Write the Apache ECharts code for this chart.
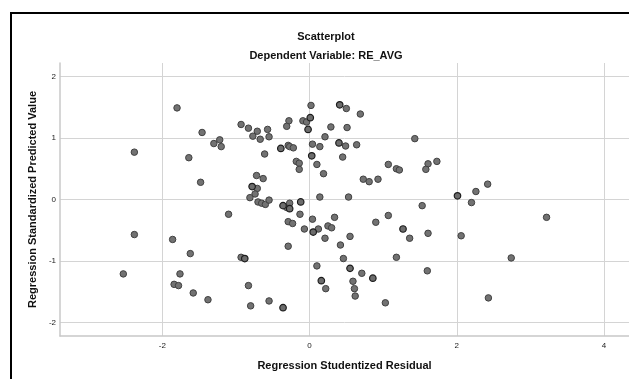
<!DOCTYPE html>
<html>
<head>
<meta charset="utf-8">
<script src="https://cdn.jsdelivr.net/npm/echarts@6/dist/echarts.min.js"></script>
<style>
  html, body { margin: 0; padding: 0; background: #fff; }
  #chart { width: 629px; height: 379px; }
</style>
</head>
<body>
<div id="chart"></div>
<script>
// studentized residual (x) / standardized predicted value (y)
const residual = [
  -1.80, -1.46, -2.38, -1.64, -1.48, -2.38, -1.86, -1.62, -2.53, -1.76,
  -1.84, -1.78, -1.58, -1.38, 0.02, 0.50, 0.69, -0.28, -0.09, -0.04,
  -0.93, -0.83, -0.71, -0.57, -0.31, 0.29, 0.51, -0.77, -0.67, -0.55,
  0.21, -1.30, -1.22, -1.20, -0.29, -0.27, -0.22, 0.04, 0.14, 0.49,
  0.64, -0.61, 0.45, -0.18, -0.14, -0.14, 0.10, 0.19, 1.07, 1.18,
  1.22, 0.73, 0.81, 0.93, -0.72, -0.63, -0.71, -0.74, -0.81, 0.14,
  0.53, -0.70, -0.65, -0.60, -0.55, -0.31, -0.27, -1.10, -0.13, 0.04,
  -0.29, -0.23, 0.34, -0.07, 0.12, 0.25, 0.30, 0.21, 0.55, 0.42,
  0.90, 1.07, -0.29, -0.93, 0.46, 1.18, 0.10, 0.71, 0.59, 0.22,
  0.61, 0.62, -0.83, -0.80, -0.55, 1.03, 1.43, 1.61, 1.58, 1.73,
  2.26, 2.42, 2.20, 1.53, 1.36, 1.61, 2.06, 3.22, 2.74, 1.60,
  2.43
];
const predicted = [
  1.49, 1.09, 0.77, 0.68, 0.28, -0.57, -0.65, -0.88, -1.21, -1.21,
  -1.38, -1.40, -1.52, -1.63, 1.53, 1.48, 1.39, 1.28, 1.28, 1.26,
  1.22, 1.16, 1.11, 1.14, 1.19, 1.18, 1.17, 1.03, 0.98, 1.02,
  1.02, 0.91, 0.97, 0.86, 0.88, 0.86, 0.84, 0.90, 0.86, 0.87,
  0.89, 0.74, 0.69, 0.62, 0.59, 0.49, 0.57, 0.42, 0.57, 0.50,
  0.48, 0.33, 0.29, 0.33, 0.39, 0.34, 0.18, 0.09, 0.03, 0.04,
  0.04, -0.04, -0.06, -0.08, -0.01, -0.13, -0.06, -0.24, -0.24, -0.32,
  -0.36, -0.39, -0.29, -0.48, -0.48, -0.43, -0.46, -0.63, -0.60, -0.74,
  -0.37, -0.26, -0.76, -0.94, -0.96, -0.94, -1.08, -1.20, -1.33, -1.45,
  -1.45, -1.57, -1.40, -1.73, -1.65, -1.68, 0.99, 0.58, 0.49, 0.62,
  0.13, 0.25, -0.05, -0.10, -0.63, -0.55, -0.59, -0.29, -0.95, -1.16,
  -1.60
];
// points drawn with a darker outline (overlapping cases)
const residualDark = [0.41, 0.01, -0.02, -0.39, 0.40, 0.03, -0.78, -0.36, -0.27, -0.12, 0.05, 1.27, -0.88, 0.55, 0.86, 0.16, -0.36, 2.01];
const predictedDark = [1.54, 1.33, 1.14, 0.83, 0.92, 0.71, 0.21, -0.10, -0.15, -0.04, -0.53, -0.48, -0.96, -1.12, -1.28, -1.32, -1.76, 0.06];

const xRange = [-3.39, 4.34];
const yRange = [-2.22, 2.22];

const FONT = '"Liberation Sans", Arial, sans-serif';

const chart = echarts.init(document.getElementById('chart'), null, { renderer: 'canvas' });

const pairs = (xs, ys) => xs.map((x, i) => [x, ys[i]]);

const axisCommon = {
  type: 'value',
  splitNumber: 4,
  axisLine: { show: true, onZero: false, lineStyle: { color: '#c8c8c8', width: 1.5 } },
  axisTick: { show: false },
  axisLabel: { fontSize: 8, color: '#222', fontFamily: FONT, showMinLabel: false, showMaxLabel: false },
  splitLine: { show: true, showMinLine: false, showMaxLine: false, lineStyle: { color: '#d4d4d4', width: 1 } },
  nameLocation: 'middle',
  nameTextStyle: { fontSize: 11, fontWeight: 'bold', color: '#111', fontFamily: FONT },
};

chart.setOption({
  animation: false,
  grid: { left: 60, top: 63, right: 0, bottom: 43 },
  xAxis: {
    ...axisCommon,
    min: xRange[0],
    max: xRange[1],
    name: 'Regression Studentized Residual',
    nameGap: 24,
    axisLabel: { ...axisCommon.axisLabel, margin: 6 },
  },
  yAxis: {
    ...axisCommon,
    min: yRange[0],
    max: yRange[1],
    name: 'Regression Standardized Predicted Value',
    nameGap: 22,
    axisLabel: { ...axisCommon.axisLabel, margin: 4 },
  },
  series: [
    {
      type: 'scatter',
      data: pairs(residual, predicted),
      symbolSize: 6.5,
      itemStyle: { color: '#727272', borderColor: '#404040', borderWidth: 1, opacity: 1 },
    },
    {
      type: 'scatter',
      data: pairs(residualDark, predictedDark),
      symbolSize: 6.5,
      itemStyle: { color: '#6c6c6c', borderColor: '#1c1c1c', borderWidth: 1.2, opacity: 1 },
    },
  ],
  graphic: [
    {
      type: 'rect',
      shape: { x: 11, y: 13, width: 700, height: 500 },
      style: { fill: null, stroke: '#000', lineWidth: 2 },
      silent: true,
    },
    {
      type: 'text',
      x: 326, y: 37,
      style: { text: 'Scatterplot', font: 'bold 11px ' + FONT, fill: '#111', textAlign: 'center', textVerticalAlign: 'middle' },
    },
    {
      type: 'text',
      x: 326, y: 56,
      style: { text: 'Dependent Variable: RE_AVG', font: 'bold 11px ' + FONT, fill: '#111', textAlign: 'center', textVerticalAlign: 'middle' },
    },
  ],
});
</script>
</body>
</html>
